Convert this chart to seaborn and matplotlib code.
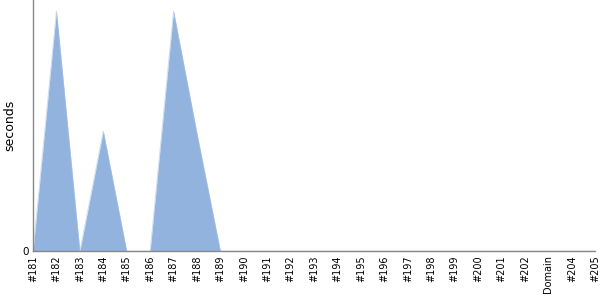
import matplotlib
matplotlib.use("Agg")
import matplotlib.pyplot as plt
import seaborn as sns
import pandas as pd

builds = ["#181", "#182", "#183", "#184", "#185", "#186", "#187", "#188", "#189",
          "#190", "#191", "#192", "#193", "#194", "#195", "#196", "#197", "#198",
          "#199", "#200", "#201", "#202", "Domain", "#204", "#205"]
seconds = [0, 1.0, 0, 0.5, 0, 0, 1.0, 0.49, 0,
           0, 0, 0, 0, 0, 0, 0, 0, 0,
           0, 0, 0, 0, 0, 0, 0]

sns.set_style("white")
plt.rcParams['font.family'] = ['DejaVu Sans']

df = pd.DataFrame({"build": builds, "seconds": seconds})
df["pos"] = range(len(df))

fig = plt.figure(figsize=(6, 3), dpi=100)
ax = fig.add_axes([0.055, 0.163, 0.937, 0.837])
ax.fill_between(df["pos"], 0, df["seconds"], color="#92b3dd", linewidth=0)
sns.lineplot(data=df, x="pos", y="seconds", ax=ax, linewidth=0.6, color="#a9c3e6", alpha=0.6)

ax.set_xlim(0, len(builds) - 1)
ax.set_ylim(0, 1.046)
ax.set_xticks(df["pos"])
ax.set_xticklabels(builds, rotation=90, fontsize=7, color="black")
ax.set_yticks([0])
ax.set_yticklabels(["0"], fontsize=7.5, color="black")
ax.set_xlabel("")
ax.set_ylabel("seconds", fontsize=9, color="black")
ax.tick_params(axis="both", length=0, pad=3)
for s in ["top", "right"]:
    ax.spines[s].set_visible(False)
for s in ["left", "bottom"]:
    ax.spines[s].set_color("#888888")
    ax.spines[s].set_linewidth(1)

fig.savefig("out.png", dpi=100)
